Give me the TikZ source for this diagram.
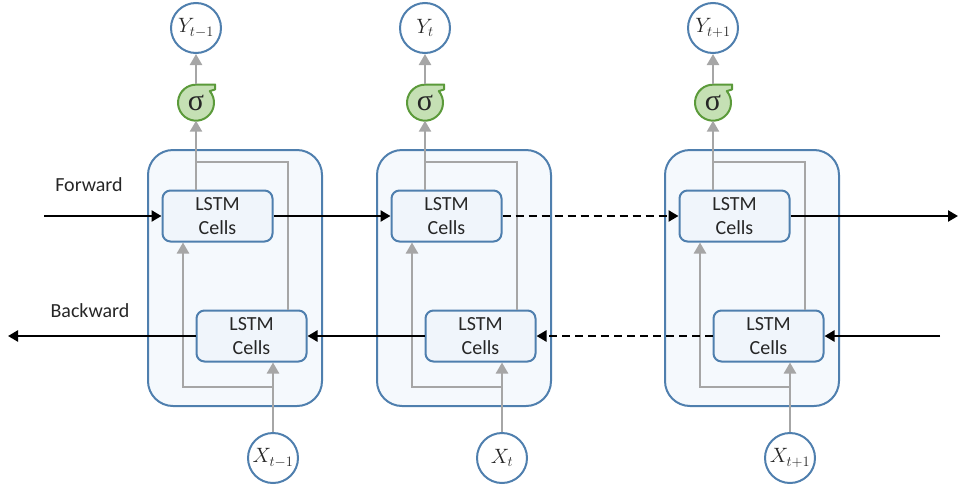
\documentclass[tikz,border=0pt]{standalone}
\usepackage{fontspec}
\setmainfont{Carlito}
\newfontfamily\sigfont{Liberation Serif}
\usetikzlibrary{arrows.meta,calc}
\definecolor{boxblue}{HTML}{4F7FAE}
\definecolor{outerfill}{HTML}{F5F9FD}
\definecolor{cellfill}{HTML}{F0F5FB}
\definecolor{garr}{HTML}{A6A6A6}
\definecolor{sigfill}{HTML}{C5E0B4}
\definecolor{sigline}{HTML}{5B9A3A}
\definecolor{txt}{HTML}{262626}
\begin{document}
\begin{tikzpicture}[x=1pt,y=-1pt,
 outer/.style={draw=boxblue,line width=2pt,fill=outerfill,rounded corners=25pt,minimum width=174pt,minimum height=256pt,inner sep=0pt},
 cell/.style={draw=boxblue,line width=2pt,fill=cellfill,rounded corners=8pt,minimum width=110pt,minimum height=51pt,inner sep=0pt,align=center,font=\fontsize{20}{24}\selectfont,text=txt},
 io/.style={circle,draw=boxblue,line width=2pt,fill=white,minimum size=50pt,inner sep=0pt,font=\fontsize{21}{24}\selectfont,text=txt},
 sig/.style={circle,minimum size=36pt,inner sep=0pt,font=\sigfont\fontsize{30}{30}\selectfont,text=txt},
 sigshape/.style={draw=sigline,line width=2pt,fill=sigfill,line join=round},
 garrow/.style={draw=garr,line width=2.4pt,-{Triangle[length=11pt,width=12pt]}},
 gline/.style={draw=garr,line width=2.4pt},
 barrow/.style={draw=black,line width=2.4pt,-{Triangle[length=10pt,width=11pt]}},
 darrow/.style={barrow,dash pattern=on 8pt off 5pt},
 lbl/.style={font=\fontsize{20}{24}\selectfont,text=txt,inner sep=0pt},
]
\useasboundingbox (0,0) rectangle (958,485);

\foreach \i/\bx/\s in {1/148/{t-1},2/377/t,3/665/{t+1}}{
  \node[outer] (B\i) at (\bx+87,278) {};
  \node[cell] (U\i) at (\bx+69.5,216) {LSTM\\Cells};
  \node[cell] (L\i) at (\bx+103.5,336) {LSTM\\Cells};
  \node[io] (Y\i) at (\bx+48,28) {$Y_{\s}$};
  \node[io] (X\i) at (\bx+125,458) {$X_{\s}$};
  \path[sigshape] (\bx+48+13.8,91.1) arc[start angle=40,end angle=-270,radius=18pt]
     -- (\bx+67,84.5) -- (\bx+67,89.5) -- cycle;
  \node[sig] (S\i) at (\bx+48,102.5) {σ};
  \coordinate (a\i) at (\bx+35,387);
  \coordinate (r\i) at (\bx+140,162);
  \coordinate (t\i) at (\bx+48,162);
  \draw[garrow] (X\i.north) -- (X\i.north |- L\i.south);
  \draw[garrow] (X\i.north |- a\i) -- (a\i) -- (a\i |- U\i.south);
  \draw[gline] (r\i |- L\i.north) -- (r\i) -- (t\i);
  \draw[garrow] (t\i |- U\i.north) -- (S\i.south);
  \draw[garrow] (S\i.north) -- (Y\i.south);
}

\node[lbl] (fw) at (89,185) {Forward};
\node[lbl] (bw) at (90,311) {Backward};

\coordinate (fin) at (44,216);
\coordinate (fout) at (958,216);
\coordinate (bin) at (940,336);
\coordinate (bout) at (8,336);
\draw[barrow] (fin) -- (U1.west);
\draw[barrow] (U1.east) -- (U2.west);
\draw[darrow] (U2.east) -- (U3.west);
\draw[barrow] (U3.east) -- (fout);
\draw[barrow] (bin) -- (L3.east);
\draw[darrow] (L3.west) -- (L2.east);
\draw[barrow] (L2.west) -- (L1.east);
\draw[barrow] (L1.west) -- (bout);
\end{tikzpicture}
\end{document}
